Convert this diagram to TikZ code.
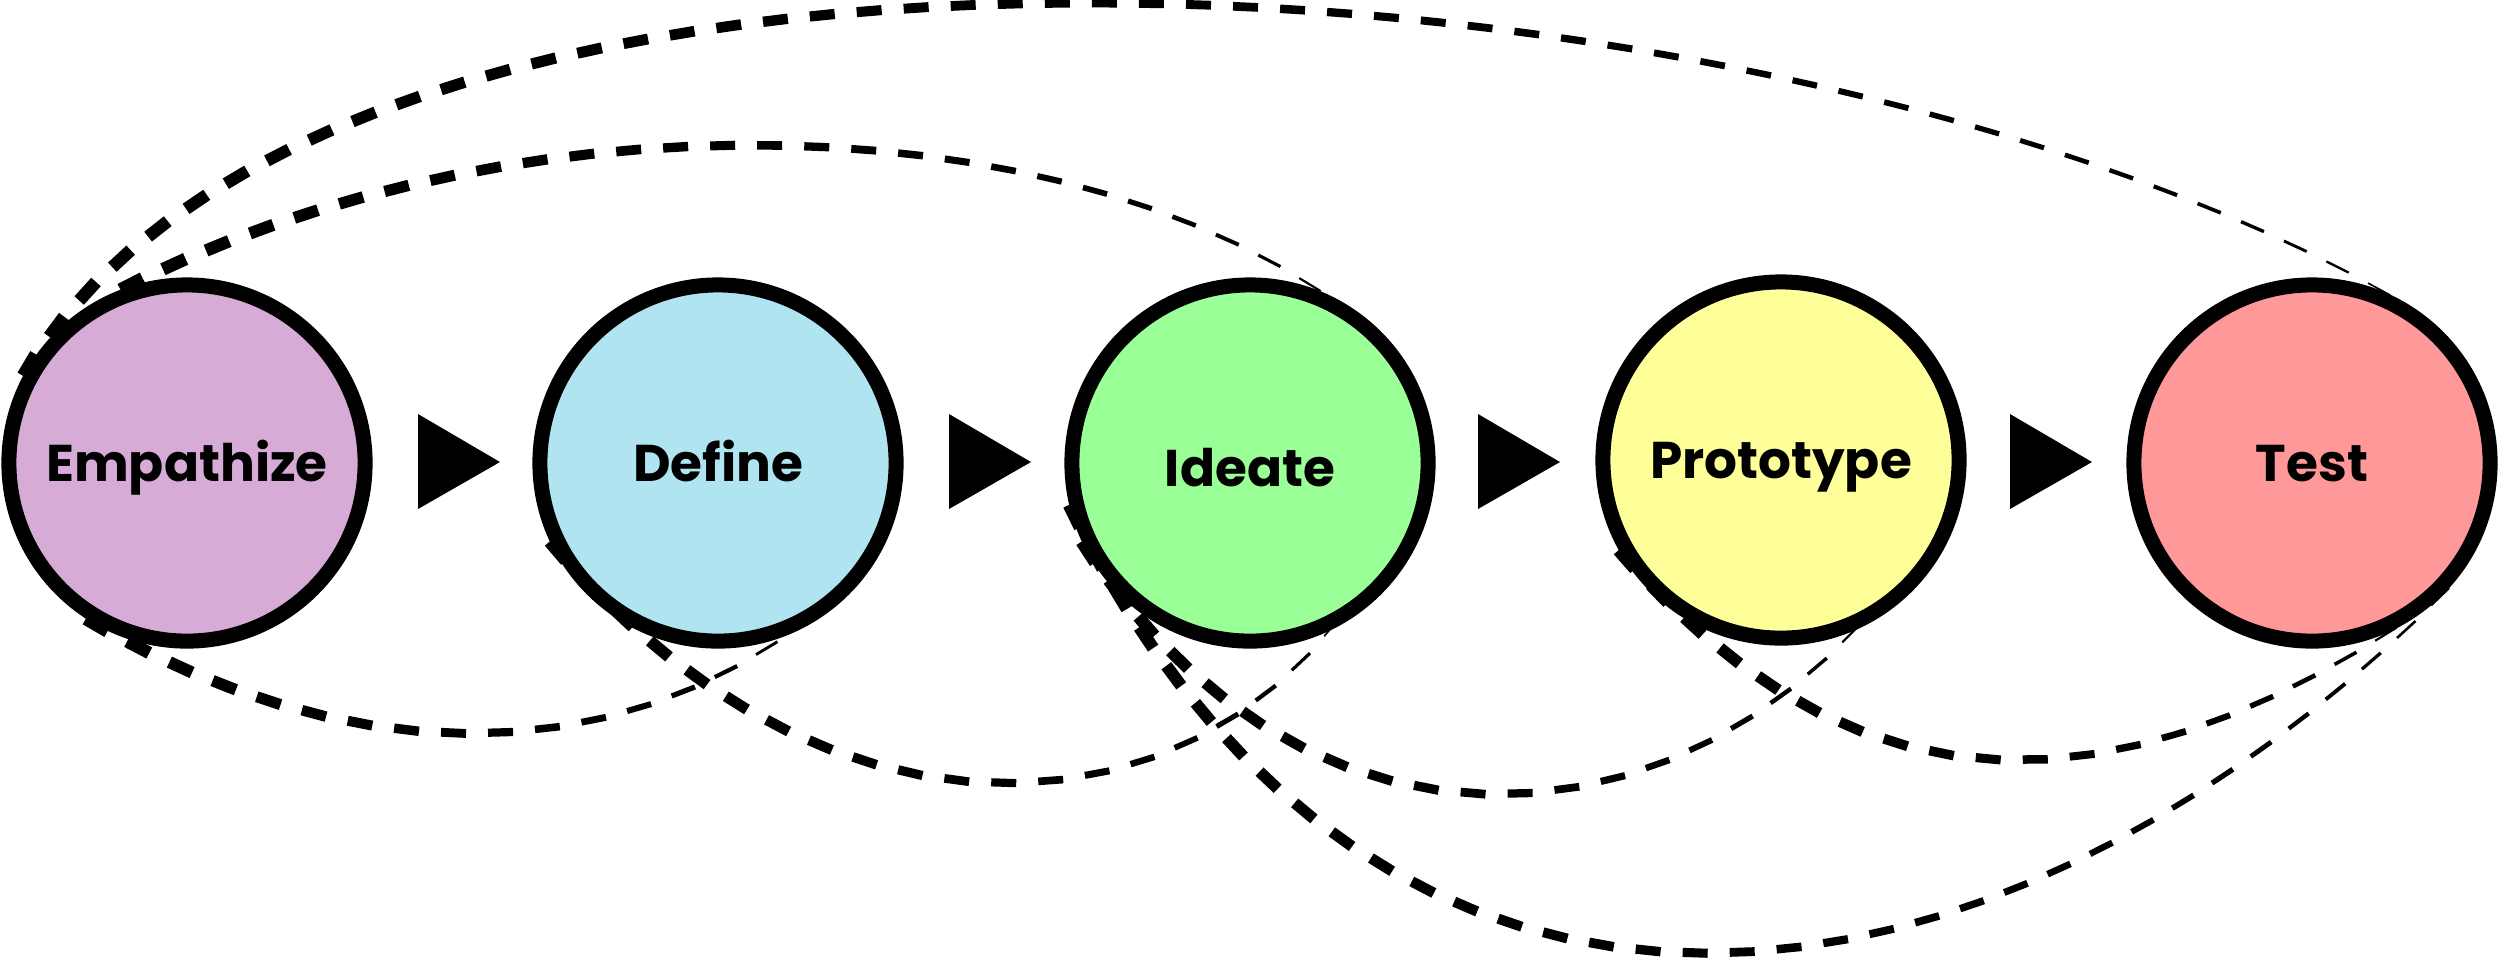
\documentclass[tikz,border=0pt]{standalone}
\usepackage{fontspec}
\setmainfont{Poppins}
\usetikzlibrary{decorations.markings,backgrounds}

\definecolor{empathizefill}{HTML}{D6ACD6}
\definecolor{definefill}{HTML}{B0E4F0}
\definecolor{ideatefill}{HTML}{9BFF98}
\definecolor{prototypefill}{HTML}{FFFF99}
\definecolor{testfill}{HTML}{FF9999}

\tikzset{
	stage/.style={circle, draw=black, line width=0.15cm, minimum size=3.56cm, inner sep=0pt,
		font=\fontsize{14.7pt}{18pt}\selectfont\bfseries, text height=0.37cm, text depth=0pt},
	loopback/.style={postaction={decorate}, decoration={markings,
		mark=between positions 0 and 1 step 0.47cm with {
			\pgfmathsetmacro\dashleft{max(1-\pgfkeysvalueof{/pgf/decoration/mark info/distance from start}/\pgfdecoratedpathlength,0.001)}
			\pgfmathsetmacro\dashwidth{0.01+0.12*\dashleft^0.6}
			\draw[line width=\dashwidth cm] (0,0) -- (0.25cm,0);
		}}},
}

\begin{document}
\begin{tikzpicture}[x=0.01cm, y=-0.01cm]
			%%%%% START %%%%%
			\useasboundingbox (0,0) rectangle (2500,959);
			
			\node[stage, fill=empathizefill] (empathize) at (187,463) {Empathize};
			\node[stage, fill=definefill] (define) at (718,463) {Define};
			\node[stage, fill=ideatefill, text height=0.47cm] (ideate) at (1250,463) {Ideate};
			\node[stage, fill=prototypefill] (prototype) at (1781,460) {Prototype};
			\node[stage, fill=testfill] (test) at (2312,463) {Test};
			
			% arrows between the stages
			\foreach \x in {418,949,1478,2010}
				\fill (\x,414) -- (\x+82,462) -- (\x,509) -- cycle;
			
			\begin{scope}[on background layer]
				\fill[white] (0,0) rectangle (2500,959);
				
				% back loops over the top
				\path[loopback] (empathize.152) .. controls (330,-140) and (1727,-75) .. (test.67);
				\path[loopback] (empathize.111) .. controls (501,97) and (1025,97) .. (ideate.68);
				
				% back loops underneath
				\path[loopback] (empathize.237) .. controls (343,768) and (592,768) .. (define.291);
				\path[loopback] (define.205) .. controls (810,846) and (1150,846) .. (ideate.295);
				\path[loopback] (ideate.205) .. controls (1290,861) and (1635,861) .. (prototype.293);
				\path[loopback] (ideate.193) .. controls (1354,1085) and (1939,1085) .. (test.312);
				\path[loopback] (prototype.209) .. controls (1850,814) and (2100,814) .. (test.295);
			\end{scope}
			
			%%%%% END %%%%%
\end{tikzpicture}
\end{document}
